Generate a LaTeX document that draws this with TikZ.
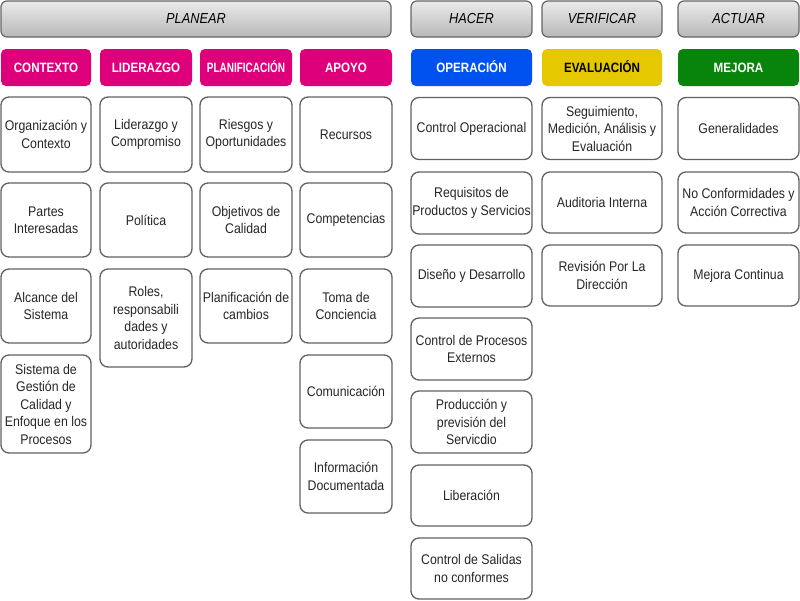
\documentclass[tikz,border=0pt]{standalone}
\usepackage{fontspec}
\setmainfont{Liberation Sans}[FakeStretch=0.88]
\newfontfamily\catfont{Liberation Sans}[FakeStretch=0.86]
\begin{document}
\begin{tikzpicture}[x=1pt,y=-1pt,
  hdr/.style={draw=black!60, line width=1.2pt, rounded corners=6pt, top color=black!8, bottom color=black!28,
    inner sep=0pt, font=\fontsize{14.5}{16}\selectfont\itshape, text=black},
  cat/.style={rounded corners=5pt, inner sep=0pt, text height=10pt, text depth=1pt,
    font=\catfont\fontsize{13.5}{15}\selectfont\bfseries, text=white},
  itm/.style={draw=black!62, line width=1.3pt, rounded corners=8pt, fill=white, inner sep=0pt, align=center,
    font=\fontsize{14}{17.5}\selectfont, text=black!85},
]
\useasboundingbox (0,0) rectangle (800,600);
\fill[white] (0,0) rectangle (800,600);
% headers
\node[hdr, minimum width=390, minimum height=36] (hplan) at (196,19) {PLANEAR};
\node[hdr, minimum width=121, minimum height=36] (hhac) at (471.5,19) {HACER};
\node[hdr, minimum width=120, minimum height=36] (hver) at (602,19) {VERIFICAR};
\node[hdr, minimum width=121, minimum height=36] (hact) at (738.5,19) {ACTUAR};
% categories
\definecolor{mag}{RGB}{221,0,122}
\definecolor{blu}{RGB}{0,82,240}
\definecolor{yel}{RGB}{230,200,0}
\definecolor{grn}{RGB}{8,132,12}
\node[cat, fill=mag, minimum width=90, minimum height=37] (ccon) at (46,67.5) {CONTEXTO};
\node[cat, fill=mag, minimum width=92, minimum height=37] (clid) at (146,67.5) {LIDERAZGO};
\node[cat, fill=mag, minimum width=92, minimum height=37] (cpla) at (246,67.5) {\scalebox{0.86}[1]{PLANIFICACIÓN}};
\node[cat, fill=mag, minimum width=92, minimum height=37] (capo) at (346,67.5) {APOYO};
\node[cat, fill=blu, minimum width=121, minimum height=37] (cope) at (471.5,67.5) {OPERACIÓN};
\node[cat, fill=yel, minimum width=120, minimum height=37, text=black] (ceva) at (602,67.5) {EVALUACIÓN};
\node[cat, fill=grn, minimum width=121, minimum height=37] (cmej) at (738.5,67.5) {MEJORA};
% column 1
\node[itm, minimum width=90, minimum height=75] (a1) at (46,134.5) {Organización y\\Contexto};
\node[itm, minimum width=90, minimum height=74] (a2) at (46,220) {Partes\\Interesadas};
\node[itm, minimum width=90, minimum height=74] (a3) at (46,306) {Alcance del\\Sistema};
\node[itm, minimum width=90, minimum height=98] (a4) at (46,404) {Sistema de\\Gestión de\\Calidad y\\Enfoque en los\\Procesos};
% column 2
\node[itm, minimum width=92, minimum height=75] (b1) at (146,134.5) {Liderazgo y\\Compromiso};
\node[itm, minimum width=92, minimum height=74] (b2) at (146,220) {Política};
\node[itm, minimum width=92, minimum height=98] (b3) at (146,318) {Roles,\\responsabili\\dades y\\autoridades};
% column 3
\node[itm, minimum width=92, minimum height=75] (d1) at (246,134.5) {Riesgos y\\Oportunidades};
\node[itm, minimum width=92, minimum height=74] (d2) at (246,220) {Objetivos de\\Calidad};
\node[itm, minimum width=92, minimum height=74] (d3) at (246,306) {Planificación de\\cambios};
% column 4
\node[itm, minimum width=92, minimum height=75] (e1) at (346,134.5) {Recursos};
\node[itm, minimum width=92, minimum height=74] (e2) at (346,220) {Competencias};
\node[itm, minimum width=92, minimum height=74] (e3) at (346,306) {Toma de\\Conciencia};
\node[itm, minimum width=92, minimum height=73] (e4) at (346,391.5) {Comunicación};
\node[itm, minimum width=92, minimum height=73] (e5) at (346,476.5) {Información\\Documentada};
% column 5
\node[itm, minimum width=121, minimum height=62] (f1) at (471.5,128.5) {Control Operacional};
\node[itm, minimum width=121, minimum height=62] (f2) at (471.5,203) {Requisitos de\\Productos y Servicios};
\node[itm, minimum width=121, minimum height=62] (f3) at (471.5,276) {Diseño y Desarrollo};
\node[itm, minimum width=121, minimum height=62] (f4) at (471.5,349) {Control de Procesos\\Externos};
\node[itm, minimum width=121, minimum height=62] (f5) at (471.5,422) {Producción y\\previsión del\\Servicdio};
\node[itm, minimum width=121, minimum height=61] (f6) at (471.5,495.5) {Liberación};
\node[itm, minimum width=121, minimum height=61] (f7) at (471.5,568.5) {Control de Salidas\\no conformes};
% column 6
\node[itm, minimum width=120, minimum height=62] (g1) at (602,128.5) {Seguimiento,\\Medición, Análisis y\\Evaluación};
\node[itm, minimum width=120, minimum height=61] (g2) at (602,202.5) {Auditoria Interna};
\node[itm, minimum width=120, minimum height=61] (g3) at (602,275.5) {Revisión Por La\\Dirección};
% column 7
\node[itm, minimum width=121, minimum height=62] (h1) at (738.5,128.5) {Generalidades};
\node[itm, minimum width=121, minimum height=61] (h2) at (738.5,202.5) {No Conformidades y\\Acción Correctiva};
\node[itm, minimum width=121, minimum height=61] (h3) at (738.5,275.5) {Mejora Continua};
\end{tikzpicture}
\end{document}
